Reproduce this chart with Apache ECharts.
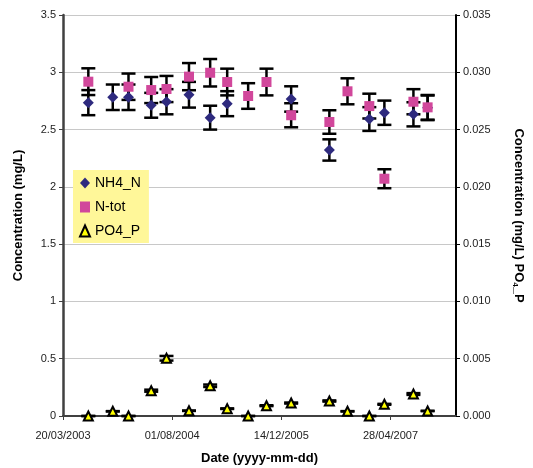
<!DOCTYPE html>
<html><head><meta charset="utf-8">
<script src="https://cdn.jsdelivr.net/npm/echarts@6/dist/echarts.min.js"></script>
<style>html,body{margin:0;padding:0;background:#fff}#c{width:533px;height:468px}</style>
</head><body><div id="c"></div>
<script>
// ---- data ----
const sampleDates = ['2003-07-14','2003-11-03','2004-01-14','2004-04-27','2004-07-06','2004-10-17','2005-01-22','2005-04-10','2005-07-15','2005-10-07','2006-01-28','2006-07-22','2006-10-13','2007-01-21','2007-03-31','2007-08-11','2007-10-15'];
const nh4N = [2.735,2.782,2.782,2.712,2.743,2.804,2.604,2.726,null,null,2.767,2.322,null,2.592,2.647,2.633,2.69];
const nTot = [2.918,null,2.874,2.845,2.854,2.962,2.996,2.915,2.793,2.915,2.625,2.566,2.834,2.705,2.071,2.743,2.694];
const po4P = [0,0.00041,0,0.00221,0.00504,0.00046,0.00264,0.00064,0,0.0009,0.00113,0.00131,0.00041,0,0.00102,0.00192,0.00044];
const errorFraction = 0.04;
const axisStartDate = '2003-03-20';
const axisEndDays = 1800;
const xTickIntervalDays = 500;
const leftAxisMax = 3.5, leftAxisInterval = 0.5;
const rightAxisMax = 0.035, rightAxisInterval = 0.005;

const DAY = 86400000;
const t0 = Date.parse(axisStartDate + 'T00:00:00Z');
const xs = sampleDates.map(d => (Date.parse(d + 'T00:00:00Z') - t0) / DAY);
const pad = n => (n < 10 ? '0' : '') + n;
function fmtDate(v) {
  const d = new Date(t0 + Math.round(v) * DAY);
  return pad(d.getUTCDate()) + '/' + pad(d.getUTCMonth() + 1) + '/' + d.getUTCFullYear();
}
const FONT = 'Arial, "Liberation Sans", sans-serif';

function pts(vals) { return xs.map((x, i) => vals[i] == null ? null : [x, vals[i]]).filter(Boolean); }
function errSeries(vals, yAxisIndex) {
  return {
    type: 'custom', yAxisIndex, silent: true, z: 1,
    data: xs.map((x, i) => vals[i] == null ? null : [x, vals[i] * (1 - errorFraction), vals[i] * (1 + errorFraction)]).filter(Boolean),
    encode: { x: 0, y: [1, 2] },
    renderItem(params, api) {
      const lo = api.coord([api.value(0), api.value(1)]);
      const hi = api.coord([api.value(0), api.value(2)]);
      const hw = 7;
      const style = { stroke: '#000', lineWidth: 2.5, fill: null };
      return { type: 'group', children: [
        { type: 'line', shape: { x1: lo[0], y1: lo[1], x2: hi[0], y2: hi[1] }, style },
        { type: 'line', shape: { x1: lo[0] - hw, y1: lo[1], x2: lo[0] + hw, y2: lo[1] }, style },
        { type: 'line', shape: { x1: hi[0] - hw, y1: hi[1], x2: hi[0] + hw, y2: hi[1] }, style }
      ]};
    }
  };
}

const chart = echarts.init(document.getElementById('c'), null, { renderer: 'canvas' });
chart.setOption({
  animation: false,
  backgroundColor: '#fff',
  textStyle: { fontFamily: FONT },
  grid: { left: 63, right: 77, top: 15, bottom: 52, containLabel: false, outerBoundsMode: 'none' },
  legend: {
    orient: 'vertical', left: 73, top: 170,
    backgroundColor: '#fff799',
    padding: [6, 8, 5, 6],
    itemWidth: 10, itemHeight: 11, itemGap: 10,
    textStyle: { fontSize: 14, color: '#000', fontFamily: FONT },
    data: [{ name: 'NH4_N', icon: 'diamond' }, { name: 'N-tot', icon: 'rect' }, { name: 'PO4_P', icon: 'triangle' }]
  },
  xAxis: {
    type: 'value', min: 0, max: axisEndDays, interval: xTickIntervalDays,
    name: 'Date (yyyy-mm-dd)', nameLocation: 'middle', nameGap: 36,
    nameTextStyle: { fontSize: 13, fontWeight: 'bold', color: '#000', fontFamily: FONT },
    axisLine: { lineStyle: { color: '#404040', width: 2 } },
    axisTick: { show: true, length: 4, lineStyle: { color: '#404040' } },
    axisLabel: { formatter: fmtDate, fontSize: 11, color: '#222', margin: 14, showMaxLabel: false },
    splitLine: { show: false }
  },
  yAxis: [{
    type: 'value', min: 0, max: leftAxisMax, interval: leftAxisInterval,
    name: 'Concentration (mg/L)', nameLocation: 'middle', nameGap: 38,
    nameTextStyle: { fontSize: 13, fontWeight: 'bold', color: '#000', fontFamily: FONT },
    axisLine: { show: true, lineStyle: { color: '#404040', width: 2.5 } },
    axisTick: { show: true, length: 4, lineStyle: { color: '#404040' } },
    axisLabel: { fontSize: 11, color: '#222', margin: 7 },
    splitLine: { show: true, lineStyle: { color: '#c8c8c8', width: 1 } }
  }, {
    type: 'value', min: 0, max: rightAxisMax, interval: rightAxisInterval, position: 'right',
    name: '{a|Concentration (mg/L) PO}{s|4}{a|_P}', nameLocation: 'middle', nameGap: 55, nameRotate: -90,
    nameTextStyle: { rich: {
      a: { fontSize: 13, fontWeight: 'bold', color: '#000', fontFamily: FONT, lineHeight: 16 },
      s: { fontSize: 8, fontWeight: 'bold', color: '#000', fontFamily: FONT, lineHeight: 16, padding: [8, 0, 0, 0] }
    } },
    axisLine: { show: true, lineStyle: { color: '#000', width: 2 } },
    axisTick: { show: true, length: 4, lineStyle: { color: '#000' } },
    axisLabel: { fontSize: 11, color: '#222', margin: 7, formatter: v => v.toFixed(3) },
    splitLine: { show: false }
  }],
  series: [
    errSeries(nh4N, 0), errSeries(nTot, 0), errSeries(po4P, 1),
    { name: 'NH4_N', type: 'scatter', yAxisIndex: 0, symbol: 'diamond', symbolSize: 11, z: 3,
      itemStyle: { color: '#2e2a7e', opacity: 1 }, data: pts(nh4N) },
    { name: 'N-tot', type: 'scatter', yAxisIndex: 0, symbol: 'rect', symbolSize: 10, z: 4,
      itemStyle: { color: '#d1479b', opacity: 1 }, data: pts(nTot) },
    { name: 'PO4_P', type: 'scatter', yAxisIndex: 1, symbol: 'triangle', symbolSize: 9, z: 5,
      itemStyle: { color: '#ffff00', borderColor: '#000', borderWidth: 2, opacity: 1 }, data: pts(po4P) }
  ]
});
</script></body></html>
